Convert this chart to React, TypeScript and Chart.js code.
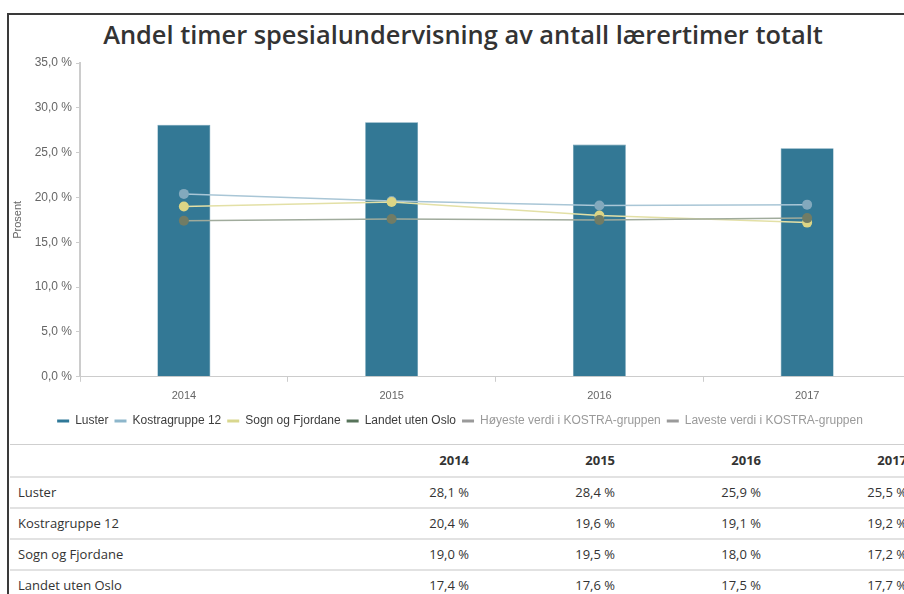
import React, { useEffect, useRef } from "react";
import { Chart, registerables } from "chart.js";

Chart.register(...registerables);

const titleText = "Andel timer spesialundervisning av antall lærertimer totalt";
const yAxisTitle = "Prosent";
const years = ["2014", "2015", "2016", "2017"];
const luster = [28.1, 28.4, 25.9, 25.5];
const kostragruppe = [20.4, 19.6, 19.1, 19.2];
const sognFjordane = [19.0, 19.5, 18.0, 17.2];
const landetUtenOslo = [17.4, 17.6, 17.5, 17.7];
const seriesNames = ["Luster", "Kostragruppe 12", "Sogn og Fjordane", "Landet uten Oslo"];
const extraLegendNames = ["Høyeste verdi i KOSTRA-gruppen", "Laveste verdi i KOSTRA-gruppen"];
const yMin = 0;
const yMax = 35;
const yStep = 5;

const fmt = (v: number) => v.toFixed(1).replace(".", ",") + " %";

const legendColors = ["#2f7898", "#8db6cb", "#d9d78e", "#57735a", "#9a9a9a", "#9a9a9a"];
const legendTextColors = ["#3d3d3d", "#3d3d3d", "#3d3d3d", "#3d3d3d", "#9a9a9a", "#9a9a9a"];

const tableRows = [
  { name: seriesNames[0], values: luster },
  { name: seriesNames[1], values: kostragruppe },
  { name: seriesNames[2], values: sognFjordane },
  { name: seriesNames[3], values: landetUtenOslo },
];

function ChartCanvas() {
  const ref = useRef<HTMLCanvasElement | null>(null);
  useEffect(() => {
    if (!ref.current) return;
    const xFont = { family: "'Liberation Sans', Arial, sans-serif", size: 11 };
    const yFont = { family: "'Liberation Sans', Arial, sans-serif", size: 12 };
    const chart = new Chart(ref.current, {
      type: "bar",
      data: {
        labels: years,
        datasets: [
          {
            type: "bar",
            label: seriesNames[0],
            data: luster,
            backgroundColor: "#337895",
            borderColor: "#5f95ad",
            borderWidth: 0.6,
            barPercentage: 0.255,
            categoryPercentage: 1,
            order: 3,
          } as any,
          {
            type: "line",
            label: seriesNames[1],
            data: kostragruppe,
            borderColor: "#a9c6d6",
            backgroundColor: "#83a9bd",
            borderWidth: 1.5,
            pointRadius: 5,
            pointBorderWidth: 0,
            pointBackgroundColor: "#83a9bd",
            order: 2,
          },
          {
            type: "line",
            label: seriesNames[2],
            data: sognFjordane,
            borderColor: "#e3e0a6",
            backgroundColor: "#dcd585",
            borderWidth: 1.5,
            pointRadius: 5,
            pointBorderWidth: 0,
            pointBackgroundColor: "#dcd585",
            order: 1,
          },
          {
            type: "line",
            label: seriesNames[3],
            data: landetUtenOslo,
            borderColor: "#a0ab9c",
            backgroundColor: "#717c65",
            borderWidth: 1.5,
            pointRadius: 5,
            pointBorderWidth: 0,
            pointBackgroundColor: "#717c65",
            order: 0,
          },
        ],
      },
      options: {
        animation: false,
        responsive: true,
        maintainAspectRatio: false,
        layout: { padding: { top: 13, right: 6, bottom: 4, left: 0 } },
        plugins: {
          title: { display: false },
          tooltip: { enabled: false },
          legend: {
            display: true,
            position: "bottom",
            onClick: () => {},
            labels: {
              boxWidth: 12,
              boxHeight: 3,
              padding: 6,
              font: { family: "'Liberation Sans', Arial, sans-serif", size: 12 },
              generateLabels: () =>
                [...seriesNames, ...extraLegendNames].map((name, i) => ({
                  text: name,
                  fillStyle: legendColors[i],
                  strokeStyle: legendColors[i],
                  lineWidth: 0,
                  hidden: false,
                  fontColor: legendTextColors[i],
                  datasetIndex: i,
                })),
            },
          },
        },
        scales: {
          x: {
            offset: true,
            grid: {
              display: true,
              drawOnChartArea: false,
              drawTicks: true,
              tickLength: 5,
              color: "#cccccc",
              offset: true,
            },
            border: { display: true, color: "#cccccc", width: 1 },
            ticks: { color: "#666", font: xFont, padding: 8 },
            afterFit: (s: any) => {
              s.height -= 2;
            },
          },
          y: {
            min: yMin,
            max: yMax,
            ticks: {
              stepSize: yStep,
              color: "#666",
              font: yFont,
              padding: 4,
              callback: (v: any) => fmt(Number(v)),
            },
            grid: {
              display: true,
              drawOnChartArea: false,
              drawTicks: true,
              tickLength: 4,
              color: "#cccccc",
            },
            border: { display: true, color: "#cccccc", width: 2 },
            title: { display: true, text: yAxisTitle, color: "#666", font: xFont, padding: 2 },
            afterFit: (s: any) => {
              s.width = 71;
            },
          },
        },
      } as any,
    });
    return () => chart.destroy();
  }, []);
  return <canvas ref={ref} />;
}

export default function App() {
  const cellFont = "'Open Sans', 'Noto Sans', sans-serif";
  return (
    <div style={{ position: "absolute", left: 0, top: 0, width: 904, height: 594, overflow: "hidden", background: "#fff" }}>
      <div
        style={{
          position: "absolute",
          left: 7,
          top: 13,
          width: 940,
          height: 620,
          borderTop: "2px solid #3a3a3a",
          borderLeft: "2px solid #3a3a3a",
        }}
      >
        <div
          style={{
            position: "absolute",
            left: 0,
            top: 3,
            width: 908,
            textAlign: "center",
            fontFamily: cellFont,
            fontSize: 25.4,
            lineHeight: "32px",
            fontWeight: 600,
            color: "#333",
            whiteSpace: "nowrap",
          }}
        >
          {titleText}
        </div>
        <div style={{ position: "absolute", left: 0, top: 35, width: 908, height: 391 }}>
          <ChartCanvas />
        </div>
        <table
          style={{
            position: "absolute",
            left: 1,
            top: 429,
            width: 905,
            borderCollapse: "collapse",
            fontFamily: cellFont,
            fontSize: 13,
            color: "#333",
            tableLayout: "fixed",
          }}
        >
          <colgroup>
            <col style={{ width: 321 }} />
            {years.map((y) => (
              <col key={y} style={{ width: 146 }} />
            ))}
          </colgroup>
          <thead>
            <tr style={{ height: 32, borderTop: "1px solid #cfcfcf", borderBottom: "2px solid #e2e2e2" }}>
              <th style={{ padding: "0 8px" }}></th>
              {years.map((y) => (
                <th key={y} style={{ textAlign: "right", padding: "0 8px", fontWeight: 700 }}>
                  {y}
                </th>
              ))}
            </tr>
          </thead>
          <tbody>
            {tableRows.map((r) => (
              <tr key={r.name} style={{ height: 31, borderBottom: "2px solid #e2e2e2" }}>
                <td style={{ padding: "0 8px", textAlign: "left" }}>{r.name}</td>
                {r.values.map((v, i) => (
                  <td key={i} style={{ textAlign: "right", padding: "0 8px" }}>
                    {fmt(v)}
                  </td>
                ))}
              </tr>
            ))}
          </tbody>
        </table>
      </div>
    </div>
  );
}
